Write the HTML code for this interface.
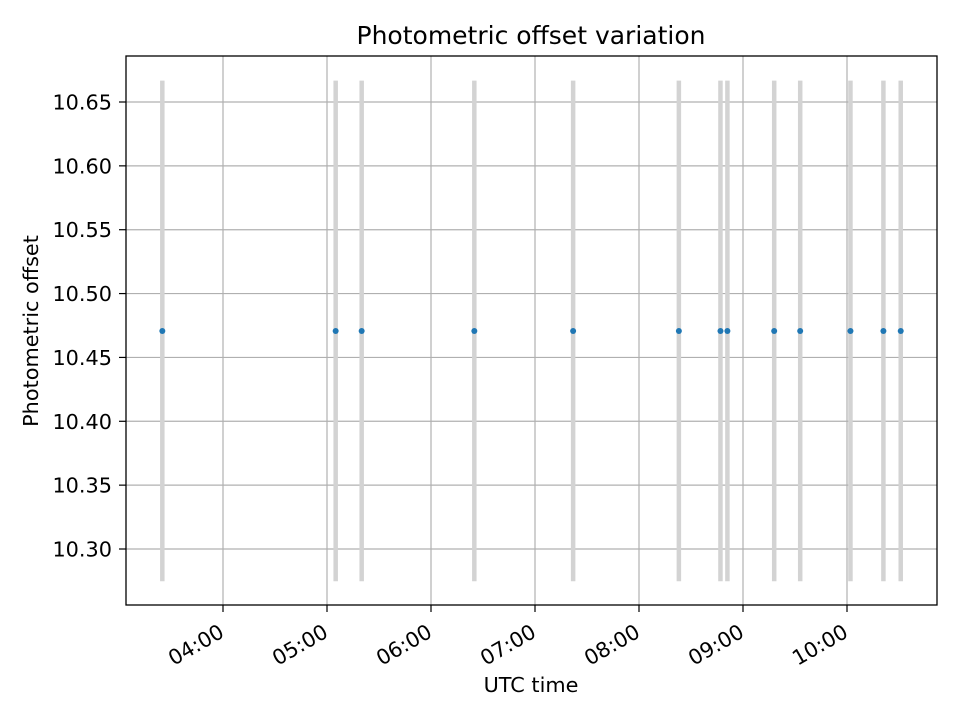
<!DOCTYPE html>
<html><head><meta charset="utf-8"><style>
body{margin:0;background:#fff;}
svg{display:block;font-family:"DejaVu Sans","Liberation Sans",sans-serif;}
</style></head><body>
<svg id="chart" width="960" height="720">
<rect x="0" y="0" width="960" height="720" fill="#fff"/>
<text x="531" y="44" font-size="25px" text-anchor="middle">Photometric offset variation</text>
<g id="grid"></g>
<g id="bars"></g>
<g id="points"></g>
<rect x="126" y="56" width="811" height="549" fill="none" stroke="#000" stroke-width="1.3"/>
<g id="axes"></g>
<text x="531" y="692" font-size="20.8px" text-anchor="middle">UTC time</text>
<text transform="translate(38,331) rotate(-90)" font-size="20.8px" text-anchor="middle">Photometric offset</text>
</svg>
<script>
const times = ["03:25","05:05","05:20","06:25","07:22","08:23","08:47","08:51","09:18","09:33","10:02","10:21","10:31"];
const offsets = [10.4707,10.4707,10.4707,10.4707,10.4707,10.4707,10.4707,10.4707,10.4707,10.4707,10.4707,10.4707,10.4707];
const errors = [0.196,0.196,0.196,0.196,0.196,0.196,0.196,0.196,0.196,0.196,0.196,0.196,0.196];
const xTickLabels = ["04:00","05:00","06:00","07:00","08:00","09:00","10:00"];
const yTickLabels = ["10.30","10.35","10.40","10.45","10.50","10.55","10.60","10.65"];

const NS="http://www.w3.org/2000/svg";
function hrs(s){const p=s.split(":");return +p[0]+(+p[1])/60;}
function xs(h){return 223+(h-4)*104;}
function ys(v){return 549-(v-10.30)/0.05*63.857;}
function mk(tag,attrs,parent){const e=document.createElementNS(NS,tag);for(const k in attrs)e.setAttribute(k,attrs[k]);document.getElementById(parent).appendChild(e);return e;}

xTickLabels.forEach(l=>{
  const x=xs(hrs(l));
  const g=mk("line",{x1:x,x2:x,y1:56,y2:605,stroke:"#b0b0b0","stroke-width":1.2},"grid");
  
  
  const t=mk("line",{x1:x,x2:x,y1:605,y2:612,stroke:"#000","stroke-width":1.2},"axes");
  
  
  const tx=mk("text",{x:0,y:0,"font-size":"20.8px","text-anchor":"end",transform:`translate(${x+2.5},636) rotate(-30)`},"axes");
  tx.textContent=l;
  
  
});
yTickLabels.forEach(l=>{
  const y=ys(+l);
  const g=mk("line",{x1:126,x2:937,y1:y,y2:y,stroke:"#b0b0b0","stroke-width":1.2},"grid");
  
  
  const t=mk("line",{x1:119,x2:126,y1:y,y2:y,stroke:"#000","stroke-width":1.2},"axes");
  
  
  const tx=mk("text",{x:112,y:y+7.5,"font-size":"20.8px","text-anchor":"end"},"axes");
  tx.textContent=l;
  
  
});
times.forEach((tm,i)=>{
  const x=xs(hrs(tm));
  const b=mk("line",{x1:x,x2:x,y1:ys(offsets[i]-errors[i]),y2:ys(offsets[i]+errors[i]),stroke:"#d3d3d3","stroke-width":4.5},"bars");
  
  
  const p=mk("circle",{cx:x,cy:ys(offsets[i]),r:3,fill:"#1f77b4"},"points");
  
  
});
</script>
</body></html>
